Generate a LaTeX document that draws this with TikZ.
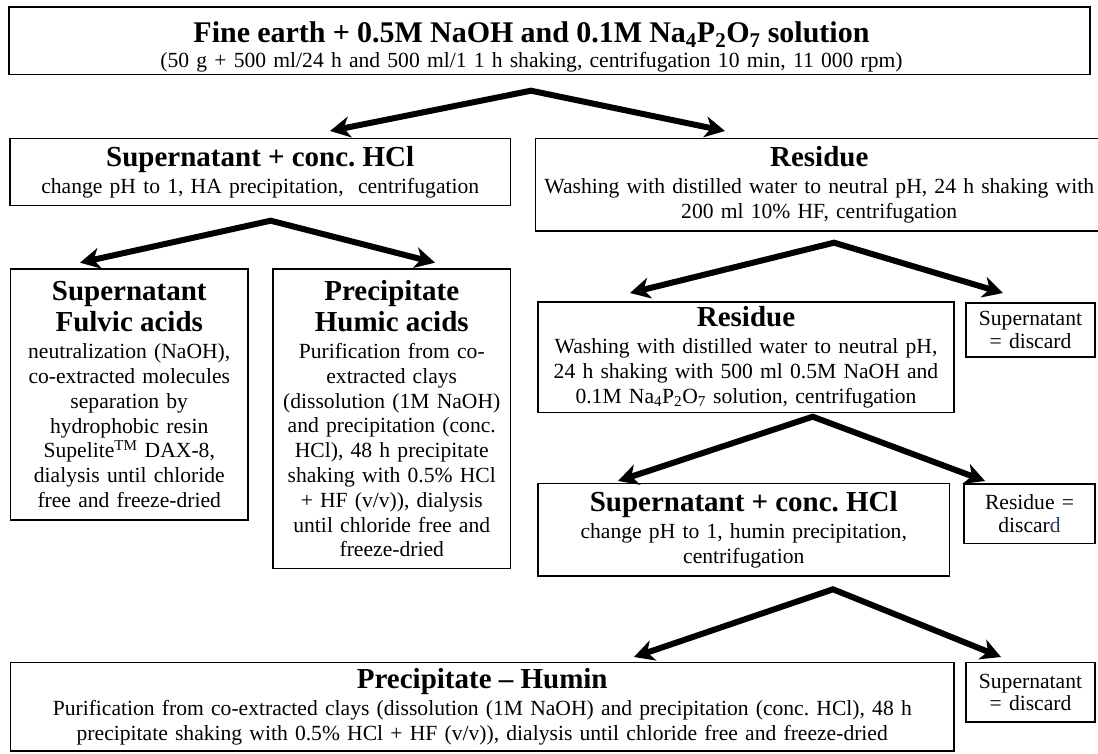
\documentclass[tikz,border=0pt]{standalone}
\usepackage{fontspec}
\setmainfont{Liberation Serif}
\usetikzlibrary{arrows.meta}
\definecolor{dblue}{RGB}{31,56,100}
\newcommand{\hdf}{\fontsize{29}{31.5}\selectfont\bfseries}
\newcommand{\bdf}{\fontsize{21.6}{24.8}\selectfont}
\newcommand{\smf}{\fontsize{21.6}{22.5}\selectfont}
\newcommand{\hd}[1]{{\hdf #1\par}\vspace{2pt}}
\tikzset{
  bx/.style={draw, line width=1.5pt, inner sep=0pt, align=center, font=\bdf},
  sbx/.style={draw, line width=1.5pt, inner sep=0pt, align=center, font=\smf},
  arr/.style={line width=6pt, line join=miter,
    {Stealth[length=20pt,width=21pt,inset=6pt]}-{Stealth[length=20pt,width=21pt,inset=6pt]}}
}
\begin{document}
\frenchspacing
\begin{tikzpicture}[x=1pt,y=-1pt]
\useasboundingbox (0,0) rectangle (1098,754);

\node[bx, minimum width=1081pt, minimum height=67.5pt] (top) at (549.5,40.75) {};
\node[inner sep=0pt, align=center, font=\bdf, text width=1060pt] (toptext) at ([xshift=-18pt,yshift=-6pt]top.center)
 {{\fontsize{30}{32}\selectfont\bfseries Fine earth + 0.5M NaOH and 0.1M Na\textsubscript{4}P\textsubscript{2}O\textsubscript{7} solution\par}
 (50 g + 500 ml/24 h and 500 ml/1 1 h shaking, centrifugation 10 min, 11 000 rpm)};

\node[bx, minimum width=500.5pt, minimum height=67.2pt, text width=495pt] (sup1) at (260.25,171.9)
 {\hd{Supernatant + conc. HCl}change pH to 1, HA precipitation,\ \ centrifugation};

\node[bx, minimum width=567.5pt, minimum height=92.7pt, text width=562pt] (res1) at (819.25,184.65)
 {\hd{Residue}Washing with distilled water to neutral pH, 24 h shaking with\\200 ml 10\% HF, centrifugation};

\node[bx, minimum width=237.5pt, minimum height=251pt, text width=234pt] (fulv) at (129.25,394.5)
 {\hd{Supernatant\\Fulvic acids}neutralization (NaOH),\\co-extracted molecules\\separation by\\hydrophobic resin\\Supelite\textsuperscript{TM} DAX-8,\\dialysis until chloride\\free and freeze-dried};

\node[bx, minimum width=237.5pt, minimum height=299.3pt, text width=234pt] (prec) at (391.75,418.65)
 {\hd{Precipitate\\Humic acids}Purification from co-\\extracted clays\\(dissolution (1M NaOH)\\and precipitation (conc.\\HCl), 48 h precipitate\\shaking with 0.5\% HCl\\+ HF (v/v)), dialysis\\until chloride free and\\freeze-dried};

\node[bx, minimum width=416pt, minimum height=110.5pt, text width=412pt] (res2) at (746,357.25)
 {\hd{Residue}Washing with distilled water to neutral pH,\\24 h shaking with 500 ml 0.5M NaOH and\\0.1M Na\textsubscript{4}P\textsubscript{2}O\textsubscript{7} solution, centrifugation};

\node[sbx, minimum width=129pt, minimum height=54pt, text width=125pt] (disc1) at (1030.5,330)
 {Supernatant\\= discard};

\node[bx, minimum width=411.5pt, minimum height=92.5pt, text width=407pt] (sup2) at (743.75,529.75)
 {\hd{Supernatant + conc. HCl}change pH to 1, humin precipitation,\\centrifugation};

\node[sbx, minimum width=131pt, minimum height=59.5pt, text width=127pt] (disc2) at (1029.5,513.75)
 {Residue =\\discar{\color{dblue}d}};

\node[bx, minimum width=943.5pt, minimum height=88.3pt, text width=938pt] (bot) at (482.25,706.85)
 {\hd{Precipitate \textendash{} Humin}Purification from co-extracted clays (dissolution (1M NaOH) and precipitation (conc. HCl), 48 h\\precipitate shaking with 0.5\% HCl + HF (v/v)), dialysis until chloride free and freeze-dried};

\node[sbx, minimum width=129pt, minimum height=59.3pt, text width=125pt] (disc3) at (1030.5,692.35)
 {Supernatant\\= discard};

% arrow junctions and tips
\coordinate (a1) at (531,90.7);  \coordinate (l1) at (330,131); \coordinate (r1) at (725,131);
\coordinate (a2) at (270.7,220.7); \coordinate (l2) at (80,262.7); \coordinate (r2) at (435,262.7);
\coordinate (a3) at (834,242.7); \coordinate (l3) at (630,293); \coordinate (r3) at (1003,293);
\coordinate (a4) at (812.7,416.7); \coordinate (l4) at (618,481); \coordinate (r4) at (985,481);
\coordinate (a5) at (833,589.3); \coordinate (l5) at (634,657); \coordinate (r5) at (1001,657);

\draw[arr] (l1) -- (a1) -- (r1);
\draw[arr] (l2) -- (a2) -- (r2);
\draw[arr] (l3) -- (a3) -- (r3);
\draw[arr] (l4) -- (a4) -- (r4);
\draw[arr] (l5) -- (a5) -- (r5);
\end{tikzpicture}
\end{document}
